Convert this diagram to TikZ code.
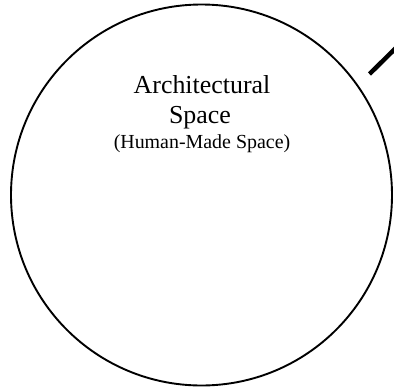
\documentclass[tikz,border=0pt]{standalone}
\usepackage{fontspec}
\setmainfont{Liberation Serif}
\begin{document}
\begin{tikzpicture}[x=1bp,y=-1bp,
  bigtext/.style={anchor=base,inner sep=0pt,font=\fontsize{26}{28}\selectfont},
  smalltext/.style={anchor=base,inner sep=0pt,font=\fontsize{20}{22}\selectfont}]
\useasboundingbox (0,0) rectangle (394,392);
\draw[line width=1.9bp] (201.5,195) circle[radius=190.5];
\coordinate (s) at (369.5,74);
\coordinate (e) at (404,40);
\draw[line width=4.5bp] (s) -- (e);
\node[bigtext] (t1) at (202,93) {Architectural};
\node[bigtext] (t2) at (200,123) {Space};
\node[smalltext] (t3) at (202,148) {(Human-Made Space)};
\end{tikzpicture}
\end{document}
